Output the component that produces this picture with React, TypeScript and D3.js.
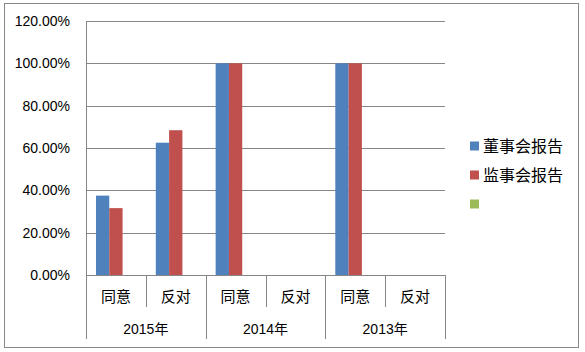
import React from "react";
import * as d3 from "d3";

const years = ["2015年", "2014年", "2013年"];
const subLabels = ["同意", "反对"];
const seriesNames = ["董事会报告", "监事会报告", ""];
const seriesColors = ["#4F81BD", "#C0504D", "#9BBB59"];
const board = [0.375, 0.625, 1.0, 0, 1.0, 0];
const supervisory = [0.316, 0.684, 1.0, 0, 1.0, 0];
const third: number[] = [0, 0, 0, 0, 0, 0];
const yTicks = [0, 0.2, 0.4, 0.6, 0.8, 1.0, 1.2];

const W = 585, H = 352;
const left = 86, right = 445, top = 21, bottom = 275;
const cjk = "'Liberation Sans', Arial, 'Noto Sans CJK SC', sans-serif";

export default function App() {
  const categories = years.flatMap((y) => subLabels.map((s) => `${y}|${s}`));
  const x0 = d3.scaleBand<string>().domain(categories).range([left, right]).padding(0);
  const x1 = d3
    .scaleBand<string>()
    .domain(["0", "1", "2"])
    .range([0, x0.bandwidth()])
    .paddingInner(0)
    .paddingOuter(0.75);
  const y = d3.scaleLinear().domain([0, 1.2]).range([bottom, top]);
  const data = [board, supervisory, third];
  const fmt = d3.format(".2%");
  const grid = "#868686";
  const yearW = x0.bandwidth() * subLabels.length;

  return (
    <svg width={W} height={H} style={{ position: "absolute", left: 0, top: 0 }} fontFamily={cjk}>
      <rect x={0} y={0} width={W} height={H} fill="#fff" />
      <rect x={4.5} y={3.5} width={574} height={344} fill="#fff" stroke="#888" strokeWidth={1} />
      {yTicks.map((t) => (
        <g key={t}>
          <line x1={left} x2={right} y1={Math.round(y(t)) + 0.5} y2={Math.round(y(t)) + 0.5} stroke={grid} />
          <text x={70} y={y(t)} dy="0.35em" textAnchor="end" fontSize={14} fill="#000">
            {fmt(t)}
          </text>
        </g>
      ))}
      <line x1={left + 0.5} x2={left + 0.5} y1={top} y2={bottom} stroke={grid} />
      {data.map((vals, si) =>
        vals.map((v, ci) =>
          v > 0 ? (
            <rect
              key={`${si}-${ci}`}
              x={(x0(categories[ci]) as number) + (x1(String(si)) as number)}
              y={y(v)}
              width={x1.bandwidth()}
              height={bottom - y(v)}
              fill={seriesColors[si]}
            />
          ) : null
        )
      )}
      {categories.map((c, i) => (
        <line
          key={`t${i}`}
          x1={Math.round(x0(c) as number) + 0.5}
          x2={Math.round(x0(c) as number) + 0.5}
          y1={bottom}
          y2={i % 2 === 0 ? 339 : 307}
          stroke={grid}
        />
      ))}
      <line x1={right + 0.5} x2={right + 0.5} y1={bottom} y2={339} stroke={grid} />
      {categories.map((c, i) => (
        <text
          key={`l${i}`}
          x={(x0(c) as number) + x0.bandwidth() / 2}
          y={297}
          dy="0.35em"
          textAnchor="middle"
          fontSize={15}
          fill="#000"
        >
          {subLabels[i % 2]}
        </text>
      ))}
      {years.map((yr, i) => (
        <text
          key={yr}
          x={(x0(categories[i * 2]) as number) + yearW / 2}
          y={329}
          dy="0.35em"
          textAnchor="middle"
          fontSize={14}
          fill="#000"
        >
          {yr}
        </text>
      ))}
      {seriesNames.map((n, i) => (
        <g key={i} transform={`translate(470, ${146 + i * 29})`}>
          <rect x={0} y={-4.5} width={9} height={9} fill={seriesColors[i]} />
          <text x={13} y={0} dy="0.35em" fontSize={16} fill="#000">
            {n}
          </text>
        </g>
      ))}
    </svg>
  );
}
